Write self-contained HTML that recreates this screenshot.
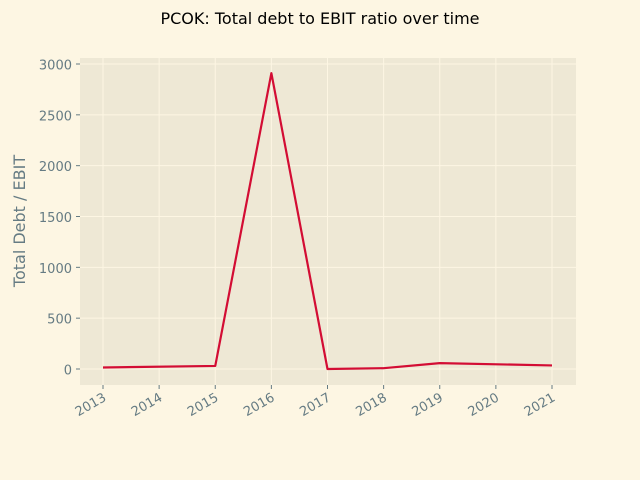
<!DOCTYPE html>
<html><head><meta charset="utf-8"><style>
body{margin:0;background:#fdf6e3;}
svg{display:block;font-family:"DejaVu Sans","Liberation Sans",sans-serif;}
</style></head><body>
<svg id="chart" width="640" height="480">
<rect width="640" height="480" fill="#fdf6e3"/>
<text x="320" y="24" text-anchor="middle" font-size="16" fill="#000">PCOK: Total debt to EBIT ratio over time</text>
<rect x="80" y="58" width="496" height="327" fill="#eee8d5"/>
<g id="grid"></g><g id="axes"></g><g id="series"></g>
<text transform="translate(25,221) rotate(-90)" text-anchor="middle" font-size="16" fill="#657b83">Total Debt / EBIT</text>
</svg>
<script>
const years=[2013,2015,2016,2017,2018,2019,2021];
const ratios=[15,30,2910,0,8,58,35];
const xTicks=[2013,2014,2015,2016,2017,2018,2019,2020,2021];
const yTicks=[0,500,1000,1500,2000,2500,3000];
const NS="http://www.w3.org/2000/svg";
function xs(v){return 103+(v-2013)*(552-103)/8;}
function ys(v){return 369-v*(369-64)/3000;}
function mk(t,a,p){const e=document.createElementNS(NS,t);for(const k in a)e.setAttribute(k,a[k]);p.appendChild(e);return e;}
const g=document.getElementById('grid'),ax=document.getElementById('axes'),s=document.getElementById('series');
yTicks.forEach(v=>{
const l=mk('line',{x1:80,x2:576,y1:ys(v),y2:ys(v),stroke:'#fdf6e3','stroke-width':1},g);


const tk=mk('line',{x1:76,x2:80,y1:ys(v),y2:ys(v),stroke:'#657b83'},ax);


const t=mk('text',{x:72,y:ys(v)+5.5,'text-anchor':'end','font-size':13,fill:'#657b83'},ax);
t.textContent=v;


});
xTicks.forEach(v=>{
const l=mk('line',{x1:xs(v),x2:xs(v),y1:58,y2:385,stroke:'#fdf6e3','stroke-width':1},g);


const tk=mk('line',{x1:xs(v),x2:xs(v),y1:385,y2:389,stroke:'#657b83'},ax);


const t=mk('text',{x:xs(v)+4,y:400,'text-anchor':'end','font-size':13,fill:'#657b83',transform:`rotate(-30 ${xs(v)+4} 400)`},ax);
t.textContent=v;


});
const p=mk('polyline',{points:years.map((y,i)=>xs(y)+','+ys(ratios[i])).join(' '),fill:'none',stroke:'#d30d34','stroke-width':2.2,'stroke-linejoin':'round'},s);


</script>
</body></html>
